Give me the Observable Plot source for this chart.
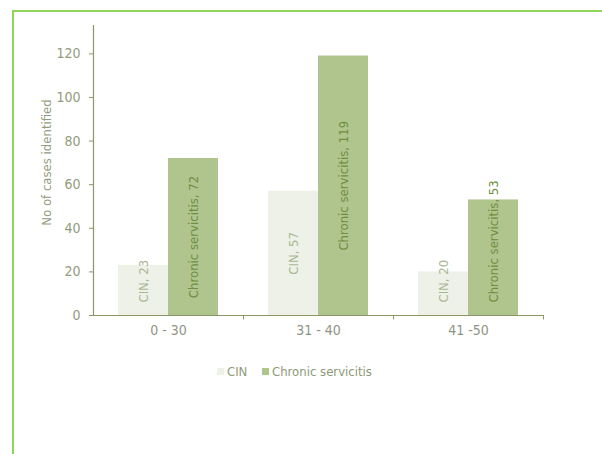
<!DOCTYPE html>
<html>
<head>
<meta charset="utf-8">
<script src="https://cdn.jsdelivr.net/npm/d3@7"></script>
<script src="https://cdn.jsdelivr.net/npm/@observablehq/plot@0.6"></script>
<style>
  html, body { margin: 0; padding: 0; background: #fff; width: 602px; height: 454px; overflow: hidden; }
  #border { position: absolute; left: 12px; top: 10px; width: 640px; height: 480px; border: 2px solid #8fd65c; box-sizing: border-box; }
  #chart { position: absolute; left: 0; top: 0; }
  #legend { position: absolute; left: 0; top: 362px; width: 602px; height: 18px; font-family: "Liberation Sans Narrow", "Arial Narrow", "DejaVu Sans Condensed", sans-serif; font-size: 13px; color: #8d9a78; }
  .item { position: absolute; top: 0; display: flex; align-items: center; height: 18px; }
  .sw { display: inline-block; width: 7px; height: 7px; margin-right: 3px; }
</style>
</head>
<body>
<div id="border"></div>
<div id="chart"></div>
<div id="legend"></div>
<script>
const ages = ["0 - 30", "31 - 40", "41 -50"];
const series = ["CIN", "Chronic servicitis"];
const cinValues = [23, 57, 20];
const chronicValues = [72, 119, 53];
const yTicks = [0, 20, 40, 60, 80, 100, 120];
const colors = ["#eef1e7", "#b0c48e"];
const labelColors = ["#a9b894", "#6f8f3e"];

const font = '"Liberation Sans Narrow", "Arial Narrow", "DejaVu Sans Condensed", sans-serif';

const data = [];
ages.forEach((a, i) => {
  data.push({age: a, series: series[0], value: cinValues[i]});
  data.push({age: a, series: series[1], value: chronicValues[i]});
});
data.forEach(d => {
  d.label = `${d.series}, ${d.value}`;
  // approximate label length in px vs bar height in px (~2.18 px per unit)
  d.fits = d.label.length * 6 + 20 < d.value * 2.18;
});

const axisColor = "#8c9468";
const textColor = "#929c7e";

const marks = [];
series.forEach((s, k) => {
  const sub = data.filter(d => d.series === s);
  marks.push(Plot.barY(sub, {
    x: "age", y: "value", fill: colors[k],
    insetLeft: k === 0 ? 25 : 75, insetRight: k === 0 ? 75 : 25
  }));
});
series.forEach((s, k) => {
  const dx = k === 0 ? -25 : 25;
  const sub = data.filter(d => d.series === s);
  marks.push(Plot.text(sub.filter(d => d.fits), {
    x: "age", y: d => d.value / 2, text: "label", rotate: -90, dx,
    textAnchor: "middle", fill: labelColors[k], fontSize: 13, fontFamily: font
  }));
  marks.push(Plot.text(sub.filter(d => !d.fits), {
    x: "age", y: 0, text: "label", rotate: -90, dx, dy: -13,
    textAnchor: "start", fill: labelColors[k], fontSize: 13, fontFamily: font
  }));
});
marks.push(Plot.ruleY([0], {stroke: axisColor, strokeWidth: 1.2}));
marks.push(Plot.frame({anchor: "left", stroke: axisColor, strokeWidth: 1.2}));
marks.push(Plot.ruleX(ages, {x: d => d, dx: 75, y1: 0, y2: -2, stroke: axisColor}));
marks.push(Plot.axisY({
  ticks: yTicks, tickSize: 4, tickPadding: 9, stroke: axisColor, color: textColor,
  fontSize: 14, fontFamily: font, label: null
}));
marks.push(Plot.text(["No of cases identified"], {
  frameAnchor: "left", textAnchor: "middle", rotate: -90, dx: -47, dy: -8, fill: textColor,
  fontSize: 13, fontFamily: font
}));
marks.push(Plot.axisX({
  tickSize: 0, tickPadding: 10, color: "#8f9585", fontSize: 14, fontFamily: font, label: null
}));

const chart = Plot.plot({
  width: 602,
  height: 345,
  marginLeft: 93,
  marginRight: 59,
  marginTop: 25,
  marginBottom: 30,
  style: {background: "transparent", fontFamily: font},
  x: {domain: ages, padding: 0},
  y: {domain: [0, 133]},
  marks
});
document.getElementById("chart").append(chart);

const legend = document.getElementById("legend");
const positions = [217, 262];
series.forEach((s, k) => {
  const item = document.createElement("div");
  item.className = "item";
  item.style.left = positions[k] + "px";
  const sw = document.createElement("span");
  sw.className = "sw";
  sw.style.background = colors[k];
  item.append(sw, document.createTextNode(s));
  legend.append(item);
});
</script>
</body>
</html>
